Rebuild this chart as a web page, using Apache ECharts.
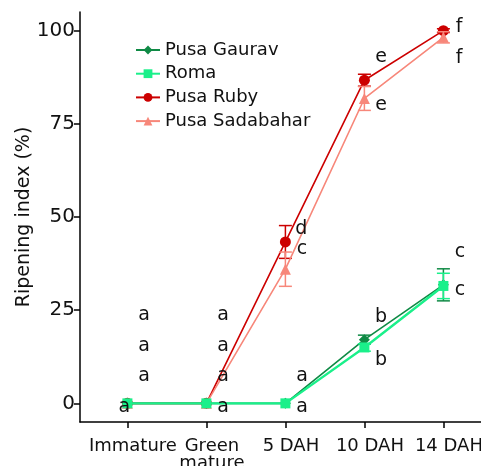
<!DOCTYPE html>
<html><head><meta charset="utf-8">
<script src="https://cdn.jsdelivr.net/npm/echarts@6/dist/echarts.min.js"></script>
<style>html,body{margin:0;padding:0;background:#fff}#c{width:481px;height:466px}</style>
</head><body><div id="c"></div>
<script>
// ---- data ----
const categories = ['Immature', 'Green\nmature', '5 DAH', '10 DAH', '14 DAH'];
const seriesNames = ['Pusa Gaurav', 'Roma', 'Pusa Ruby', 'Pusa Sadabahar'];
const gauravValues = [0, 0, 0, 17.1, 31.8];
const gauravErrors = [0, 0, 0, 1.2, 4.3];
const romaValues = [0, 0, 0, 15.0, 31.5];
const romaErrors = [0, 0, 0, 1.0, 3.4];
const rubyValues = [0, 0, 43.3, 86.7, 100.0];
const rubyErrors = [0, 0, 4.4, 1.6, 0.5];
const sadabaharValues = [0, 0, 36.0, 81.8, 98.2];
const sadabaharErrors = [0, 0, 4.6, 3.2, 1.5];
const yTicks = [0, 25, 50, 75, 100];
const xTicks = [0, 1, 2, 3, 4];
// significance letters: [x (category units), y (value units), letter]
const annotations = [
  [0.21, 23.8, 'a'], [0.21, 15.5, 'a'], [0.21, 7.4, 'a'], [-0.04, -0.9, 'a'],
  [1.21, 23.8, 'a'], [1.21, 15.5, 'a'], [1.21, 7.4, 'a'], [1.21, -0.9, 'a'],
  [2.21, 7.4, 'a'], [2.21, -0.9, 'a'],
  [2.2, 46.8, 'd'], [2.21, 41.4, 'c'],
  [3.21, 92.9, 'e'], [3.21, 80.0, 'e'],
  [4.2, 100.9, 'f'], [4.2, 92.6, 'f'],
  [4.21, 40.6, 'c'], [4.21, 30.5, 'c'],
  [3.21, 23.2, 'b'], [3.21, 11.5, 'b']
];

const FONT = 'DejaVu Sans';
const colors = {
  'Pusa Gaurav': '#0f8a45',
  'Roma': '#1af08a',
  'Pusa Ruby': '#cc0000',
  'Pusa Sadabahar': '#f7877a'
};
const symbols = {'Pusa Gaurav': 'diamond', 'Roma': 'rect', 'Pusa Ruby': 'circle', 'Pusa Sadabahar': 'triangle'};
const symSizes = {'Pusa Gaurav': 11, 'Roma': 10, 'Pusa Ruby': 11, 'Pusa Sadabahar': 11};
const lineWidths = {'Pusa Gaurav': 1.6, 'Roma': 2.4, 'Pusa Ruby': 1.6, 'Pusa Sadabahar': 1.6};
const valuesByName = {'Pusa Gaurav': gauravValues, 'Roma': romaValues, 'Pusa Ruby': rubyValues, 'Pusa Sadabahar': sadabaharValues};
const errorsByName = {'Pusa Gaurav': gauravErrors, 'Roma': romaErrors, 'Pusa Ruby': rubyErrors, 'Pusa Sadabahar': sadabaharErrors};

function errRender(color) {
  return function (params, api) {
    const x = api.value(0), lo = api.value(1), hi = api.value(2);
    if (hi - lo <= 0) return null;
    const p1 = api.coord([x, hi]), p2 = api.coord([x, lo]);
    const hw = 6.5;
    const st = {stroke: color, lineWidth: 1.5};
    return {type: 'group', children: [
      {type: 'line', shape: {x1: p1[0], y1: p1[1], x2: p2[0], y2: p2[1]}, style: st},
      {type: 'line', shape: {x1: p1[0] - hw, y1: p1[1], x2: p1[0] + hw, y2: p1[1]}, style: st},
      {type: 'line', shape: {x1: p2[0] - hw, y1: p2[1], x2: p2[0] + hw, y2: p2[1]}, style: st}
    ]};
  };
}

const drawOrder = ['Pusa Ruby', 'Pusa Sadabahar', 'Pusa Gaurav', 'Roma'];
const series = [];
drawOrder.forEach(function (name, k) {
  const vals = valuesByName[name], errs = errorsByName[name];
  series.push({
    type: 'custom', name: name + ' err', z: 2 + k,
    renderItem: errRender(colors[name]),
    data: vals.map(function (v, i) { return [i, v - errs[i], v + errs[i]]; }),
    silent: true
  });
  series.push({
    type: 'line', name: name, z: 2 + k,
    data: vals.map(function (v, i) { return [i, v]; }),
    symbol: symbols[name], symbolSize: symSizes[name], showSymbol: true,
    color: colors[name],
    itemStyle: {color: colors[name]},
    lineStyle: {color: colors[name], width: lineWidths[name]}
  });
});
series.push({
  type: 'custom', name: 'letters', z: 20, silent: true,
  renderItem: function (params, api) {
    const c = api.coord([api.value(0), api.value(1)]);
    return {type: 'text', x: c[0], y: c[1], style: {
      text: annotations[params.dataIndex][2], fontSize: 19, fontFamily: FONT, fill: '#111',
      align: 'center', verticalAlign: 'middle', textAlign: 'center', textVerticalAlign: 'middle'
    }};
  },
  data: annotations.map(function (a) { return [a[0], a[1]]; })
});

const labelShift = 0.07;
const chart = echarts.init(document.getElementById('c'));
chart.setOption({
  animation: false,
  backgroundColor: '#fff',
  grid: {left: 80, right: 0, top: 12, bottom: 44, containLabel: false, outerBoundsMode: 'none'},
  legend: {
    data: seriesNames, orient: 'vertical', left: 130, top: 36,
    itemWidth: 24, itemHeight: 11, itemGap: 5.7,
    textStyle: {fontSize: 18, fontFamily: FONT, color: '#111'}
  },
  xAxis: {
    type: 'value', min: -0.6, max: 4.476,
    splitLine: {show: false},
    axisLine: {onZero: false, lineStyle: {color: '#000', width: 1.5}},
    axisTick: {customValues: xTicks, length: 6, lineStyle: {color: '#000', width: 1.5}},
    axisLabel: {customValues: xTicks.map(function (t) { return t + labelShift; }),
      formatter: function (v) { return categories[Math.round(v)]; },
      hideOverlap: false, showMinLabel: true, showMaxLabel: true,
      fontSize: 18, fontFamily: FONT, color: '#111', margin: 16, lineHeight: 17}
  },
  yAxis: {
    type: 'value', min: -5, max: 105,
    name: 'Ripening index (%)', nameLocation: 'middle', nameGap: 46, nameMoveOverlap: false,
    nameTextStyle: {fontSize: 19, fontFamily: FONT, color: '#111'},
    splitLine: {show: false},
    axisLine: {show: true, onZero: false, lineStyle: {color: '#000', width: 1.5}},
    axisTick: {show: true, customValues: yTicks, length: 6, lineStyle: {color: '#000', width: 1.5}},
    axisLabel: {customValues: yTicks, fontSize: 20, fontFamily: FONT, color: '#111', margin: 5}
  },
  series: series
});
</script></body></html>
